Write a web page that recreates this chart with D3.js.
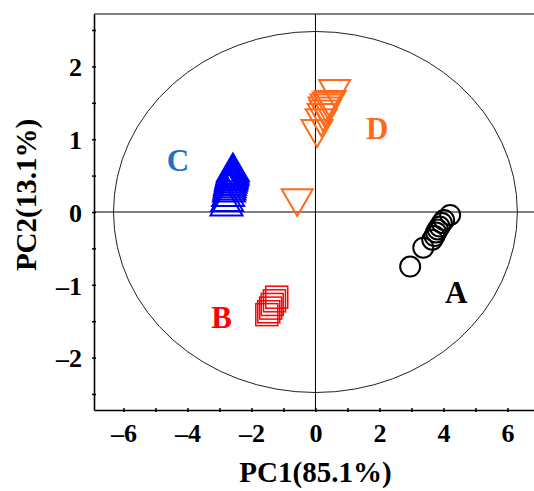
<!DOCTYPE html>
<head>
  <meta charset="utf-8">
  <style>
  body { margin: 0; background: #fff; }
  * { font-family: "Liberation Serif", "Times New Roman", serif; }
  .tick text { font-size: 26px; font-weight: bold; }
  .title { font-size: 29px; font-weight: bold; }
  .group { font-size: 31px; font-weight: bold; }
  </style>
  <title>PCA score plot</title>
</head>
<body>
  <svg width="534" height="491"></svg>
  <script src="https://cdn.jsdelivr.net/npm/d3@7"></script>
  <script>
  // scores (PC1, PC2)
  var groupA = [[2.96,-0.75],[3.37,-0.49],[3.65,-0.38],[3.72,-0.33],[3.77,-0.28],[3.82,-0.24],[3.88,-0.20],[3.95,-0.15],[4.02,-0.11],[4.21,-0.04]];
  var groupB = [[-1.52,-1.41],[-1.46,-1.37],[-1.40,-1.32],[-1.35,-1.27],[-1.28,-1.22],[-1.21,-1.17]];
  var groupC = [[-2.78,0.08],[-2.76,0.14],[-2.73,0.21],[-2.70,0.27],[-2.69,0.30],[-2.68,0.33],[-2.67,0.36],[-2.65,0.39],[-2.64,0.42],[-2.63,0.44],[-2.62,0.46],[-2.61,0.48],[-2.60,0.50],[-2.59,0.52],[-2.58,0.55]];
  var groupD = [[0.60,1.69],[0.46,1.54],[0.40,1.52],[0.33,1.49],[0.27,1.45],[0.30,1.41],[0.24,1.36],[0.18,1.29],[0.05,1.14],[-0.57,0.19]];
  var groupNames = ["A", "B", "C", "D"];
  var labelPos = [[4.4,-1.25],[-2.93,-1.6],[-4.3,0.56],[1.93,1.0]];
  var xTicks = [-6,-5,-4,-3,-2,-1,0,1,2,3,4,5,6];
  var yTicks = [-2.5,-2,-1.5,-1,-0.5,0,0.5,1,1.5,2,2.5];
  var ellipseR = [6.31, 2.48];

  var svg = d3.select("svg");
  var x = d3.scaleLinear().domain([-6.92, 6.83]).range([94, 534]);
  var y = d3.scaleLinear().domain([-2.72, 2.72]).range([410, 14]);

  // top border and zero lines
  svg.append("line").attr("x1", 94).attr("x2", 534).attr("y1", y(2.72)).attr("y2", y(2.72))
      .attr("stroke", "#808080").attr("stroke-width", 2);
  svg.append("line").attr("x1", 94).attr("x2", 534).attr("y1", y(0)).attr("y2", y(0))
      .attr("stroke", "#808080").attr("stroke-width", 2);
  svg.append("line").attr("x1", x(0)).attr("x2", x(0)).attr("y1", 14).attr("y2", 410)
      .attr("stroke", "#000").attr("stroke-width", 1);

  svg.append("ellipse")
      .attr("cx", x(0)).attr("cy", y(0))
      .attr("rx", x(ellipseR[0]) - x(0)).attr("ry", y(0) - y(ellipseR[1]))
      .attr("fill", "none").attr("stroke", "#222").attr("stroke-width", 1);

  // axes
  var xAxis = svg.append("g").attr("transform", "translate(0,410)")
      .call(d3.axisBottom(x).tickValues(xTicks).tickSizeInner(2).tickSizeOuter(0).tickPadding(12)
        .tickFormat(function(d) { return d % 2 === 0 ? String(d).replace("-", "\u2013") : ""; }));
  var yAxis = svg.append("g").attr("transform", "translate(94,0)")
      .call(d3.axisLeft(y).tickValues(yTicks).tickSizeInner(2).tickSizeOuter(0).tickPadding(10)
        .tickFormat(function(d) { return Number.isInteger(d) ? String(d).replace("-", "\u2013") : ""; }));
  [xAxis, yAxis].forEach(function(g) {
    g.select(".domain").attr("stroke", "#000").attr("stroke-width", 1.6);
    g.selectAll(".tick line").attr("stroke", "#000").attr("stroke-width", 1.5)
      .attr("transform", g === xAxis ? "translate(0,-2)" : "translate(2,0)")
      .attr(g === xAxis ? "y2" : "x2", g === xAxis ? 4 : -4);
    g.selectAll(".tick text").attr("fill", "#000").attr("font-family", null).attr("font-size", null);
  });
  yAxis.selectAll(".tick text").attr("dy", "0.36em");

  // points
  function tri(side, up) {
    var h = side * Math.sqrt(3) / 2, k = up ? 1 : -1;
    return "M0," + (-k * 2 * h / 3) + "L" + (side / 2) + "," + (k * h / 3) + "L" + (-side / 2) + "," + (k * h / 3) + "Z";
  }
  svg.append("g").selectAll("circle").data(groupA).enter().append("circle")
      .attr("cx", function(d) { return x(d[0]); }).attr("cy", function(d) { return y(d[1]); })
      .attr("r", 10).attr("fill", "none").attr("stroke", "#000").attr("stroke-width", 2);
  svg.append("g").selectAll("rect").data(groupB).enter().append("rect")
      .attr("x", function(d) { return x(d[0]) - 11; }).attr("y", function(d) { return y(d[1]) - 11; })
      .attr("width", 22).attr("height", 22).attr("fill", "none").attr("stroke", "#ff0000").attr("stroke-width", 1.5);
  svg.append("g").selectAll("path").data(groupC).enter().append("path")
      .attr("transform", function(d) { return "translate(" + x(d[0]) + "," + y(d[1]) + ")"; })
      .attr("d", tri(32, true)).attr("fill", "none").attr("stroke", "#0000ff").attr("stroke-width", 2);
  svg.append("g").selectAll("path").data(groupD).enter().append("path")
      .attr("transform", function(d) { return "translate(" + x(d[0]) + "," + y(d[1]) + ")"; })
      .attr("d", tri(31, false)).attr("fill", "none").attr("stroke", "#ff6a1a").attr("stroke-width", 2);

  var labelColors = ["#000000", "#ff0000", "#1f6fc5", "#ff6a1a"];
  svg.append("g").selectAll("text").data(groupNames).enter().append("text")
      .attr("class", "group")
      .attr("x", function(d, i) { return x(labelPos[i][0]); })
      .attr("y", function(d, i) { return y(labelPos[i][1]); })
      .attr("text-anchor", "middle")
      .attr("fill", function(d, i) { return labelColors[i]; })
      .text(function(d) { return d; });

  svg.append("text").attr("class", "title").attr("x", x(0)).attr("y", 482)
      .attr("text-anchor", "middle").text("PC1(85.1%)");
  svg.append("text").attr("class", "title").attr("transform", "translate(36,195) rotate(-90)")
      .attr("text-anchor", "middle").text("PC2(13.1%)");
  </script>
</body>
